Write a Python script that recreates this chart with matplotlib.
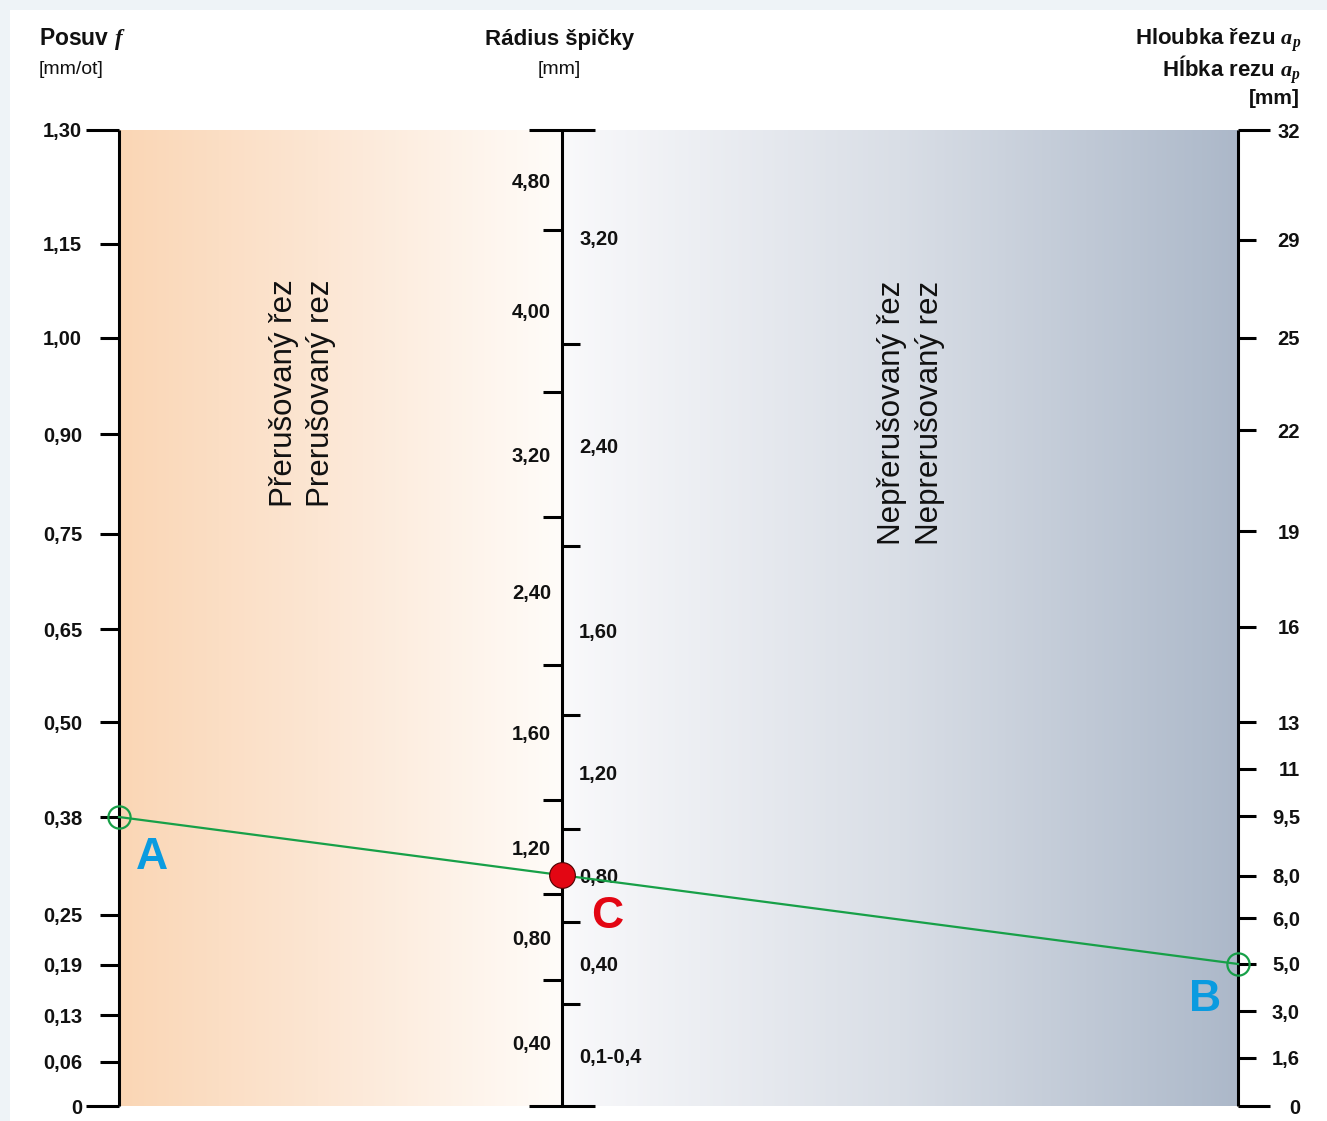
import numpy as np
import matplotlib
matplotlib.use("Agg")
import matplotlib.pyplot as plt
from matplotlib.patches import Rectangle
from matplotlib.colors import to_rgb

# ---- nomogram scales -------------------------------------------------------
# position along the nomogram height: 0 = bottom of the scales, 1 = top

# feed f [mm/ot] (left scale)
feed_labels = ["1,30", "1,15", "1,00", "0,90", "0,75", "0,65", "0,50",
               "0,38", "0,25", "0,19", "0,13", "0,06", "0"]
feed_values = [1.30, 1.15, 1.00, 0.90, 0.75, 0.65, 0.50,
               0.38, 0.25, 0.19, 0.13, 0.06, 0.0]
feed_pos = [1.0, 0.8832, 0.7869, 0.6885, 0.5861, 0.4887, 0.3934,
            0.2961, 0.1957, 0.1445, 0.0932, 0.0451, 0.0]

# depth of cut a_p [mm] (right scale)
depth_labels = ["32", "29", "25", "22", "19", "16", "13", "11", "9,5",
                "8,0", "6,0", "5,0", "3,0", "1,6", "0"]
depth_values = [32, 29, 25, 22, 19, 16, 13, 11, 9.5, 8.0, 6.0, 5.0, 3.0, 1.6, 0]
depth_pos = [1.0, 0.8873, 0.7869, 0.6926, 0.5891, 0.4908, 0.3934, 0.3453,
             0.2971, 0.2357, 0.1926, 0.1455, 0.0973, 0.0492, 0.0]

# nose radius [mm] (centre scale): bands for interrupted / continuous cut
radius_int_labels = ["4,80", "4,00", "3,20", "2,40", "1,60", "1,20", "0,80", "0,40"]
radius_int_bounds = [1.0, 0.8975, 0.7316, 0.6035, 0.4518, 0.3135, 0.2172, 0.1291, 0.0]
radius_cont_labels = ["3,20", "2,40", "1,60", "1,20", "0,80", "0,40", "0,1-0,4"]
radius_cont_bounds = [1.0, 0.7807, 0.5738, 0.4006, 0.2838, 0.1885, 0.1045, 0.0]

# worked example: feed A and depth B give radius C
feed_A = 0.38
depth_B = 5.0

# ---- styling ---------------------------------------------------------------
plt.rcParams['font.family'] = ['Liberation Sans', 'DejaVu Sans']
plt.rcParams['mathtext.fontset'] = 'custom'
plt.rcParams['mathtext.it'] = 'Liberation Serif:italic:bold'
plt.rcParams['mathtext.rm'] = 'Liberation Serif:bold'

W, H = 1327, 1121
fig = plt.figure(figsize=(W / 100, H / 100), dpi=100, facecolor='#eef3f7')
fig.add_artist(Rectangle((10 / W, 0), 1 - 10 / W, 1 - 10 / H,
                         transform=fig.transFigure, facecolor='white',
                         edgecolor='none', zorder=0))

x0, x1, ytop, ybot = 119, 1238, 130, 1106
ax = fig.add_axes([x0 / W, (H - ybot) / H, (x1 - x0) / W, (ybot - ytop) / H])
ax.set_xlim(0, 1)
ax.set_ylim(0, 1)
ax.axis('off')

px = 1.0 / (x1 - x0)          # one pixel in x data units
xc = (562 - x0) * px          # centre scale position


def gradient(stops, n=400):
    t = np.linspace(0, 1, n)
    pos = [s[0] for s in stops]
    cols = np.array([to_rgb(s[1]) for s in stops])
    img = np.stack([np.interp(t, pos, cols[:, k]) for k in range(3)], axis=-1)
    return img[np.newaxis, :, :]


ax.imshow(gradient([(0, '#fad6b5'), (0.45, '#fce6d3'), (1, '#fffcf9')]),
          extent=(0, xc, 0, 1), aspect='auto', zorder=0, interpolation='bilinear')
ax.imshow(gradient([(0, '#f9f9fb'), (0.5, '#d9dee6'), (1, '#acb8c9')]),
          extent=(xc, 1, 0, 1), aspect='auto', zorder=0, interpolation='bilinear')

lw = 2.2
tick_kw = dict(color='black', lw=lw, solid_capstyle='butt', clip_on=False, zorder=3)
lab_kw = dict(fontsize=14.5, fontweight='bold', va='center_baseline', color='#111111')

# scale lines
for xs in (0, xc, 1):
    ax.plot([xs, xs], [0, 1], **tick_kw)

# left scale: feed
for i, (lab, p) in enumerate(zip(feed_labels, feed_pos)):
    ln = 33 if i in (0, len(feed_pos) - 1) else 19
    ax.plot([-ln * px, 0], [p, p], **tick_kw)
    ax.text(-37 * px, p, lab, ha='right', **lab_kw)

# right scale: depth of cut
for i, (lab, p) in enumerate(zip(depth_labels, depth_pos)):
    ln = 32 if i in (0, len(depth_pos) - 1) else 18
    ax.plot([1, 1 + ln * px], [p, p], **tick_kw)
    ax.text(1 + 62 * px, p, lab, ha='right', **lab_kw)

# centre scale: nose radius bands
for p in (radius_int_bounds[0], radius_int_bounds[-1]):
    ax.plot([xc - 33 * px, xc + 33 * px], [p, p], **tick_kw)
for p in radius_int_bounds[1:-1]:
    ax.plot([xc - 19 * px, xc], [p, p], **tick_kw)
for p in radius_cont_bounds[1:-1]:
    ax.plot([xc, xc + 18 * px], [p, p], **tick_kw)
for lab, hi, lo in zip(radius_int_labels, radius_int_bounds[:-1], radius_int_bounds[1:]):
    ax.text(xc - 11 * px, (hi + lo) / 2, lab, ha='right', **lab_kw)
for lab, hi, lo in zip(radius_cont_labels, radius_cont_bounds[:-1], radius_cont_bounds[1:]):
    ax.text(xc + 17 * px, (hi + lo) / 2, lab, ha='left', **lab_kw)

# region captions
cap_kw = dict(fontsize=22.5, rotation=90, ha='center', va='bottom', color='#111111')
ax.text((284 - x0) * px, 0.6137, "Přerušovaný řez", **cap_kw)
ax.text((321 - x0) * px, 0.6137, "Prerušovaný rez", **cap_kw)
ax.text((892 - x0) * px, 0.5748, "Nepřerušovaný řez", **cap_kw)
ax.text((930 - x0) * px, 0.5748, "Neprerušovaný rez", **cap_kw)

# worked example line A -> B, crossing the centre scale at C
yA = np.interp(feed_A, feed_values[::-1], feed_pos[::-1])
yB = np.interp(depth_B, depth_values[::-1], depth_pos[::-1])
yC = yA + (yB - yA) * xc
green = '#17a048'
ax.plot([0, 1], [yA, yB], color=green, lw=1.6, zorder=4, clip_on=False)
for xs, ys in ((0, yA), (1, yB)):
    ax.plot(xs, ys, 'o', mfc='none', mec=green, ms=16, mew=1.6, zorder=5, clip_on=False)
ax.plot(xc, yC, 'o', mfc='#e30613', mec='#4a0000', ms=18.5, mew=0.8, zorder=6)

let_kw = dict(textcoords='offset pixels', fontsize=32, fontweight='bold',
              ha='center', va='center_baseline', zorder=6)
ax.annotate("A", (0, yA), xytext=(33, -36), color='#0a9be0', **let_kw)
ax.annotate("C", (xc, yC), xytext=(45, -37), color='#e30613', **let_kw)
ax.annotate("B", (1, yB), xytext=(-33, -31), color='#0a9be0', **let_kw)

# headers
def fx(x):
    return x / W


def fy(y):
    return 1 - y / H


hdr = dict(fontweight='bold', va='baseline', color='#111111')
fig.text(fx(39), fy(45), r"Posuv $f$", fontsize=16.5, ha='left', **hdr)
fig.text(fx(39), fy(74), "[mm/ot]", fontsize=14, ha='left', va='baseline',
         color='#111111')
fig.text(fx(560), fy(45), "Rádius špičky", fontsize=16, ha='center', **hdr)
fig.text(fx(559), fy(74), "[mm]", fontsize=14, ha='center', va='baseline',
         color='#111111')
fig.text(fx(1301), fy(45), r"Hloubka řezu $a_p$", fontsize=16, ha='right', **hdr)
fig.text(fx(1301), fy(77), r"Hĺbka rezu $a_p$", fontsize=16, ha='right', **hdr)
fig.text(fx(1300), fy(104), "[mm]", fontsize=15, ha='right', **hdr)

fig.savefig("out.png", dpi=100, facecolor=fig.get_facecolor())
